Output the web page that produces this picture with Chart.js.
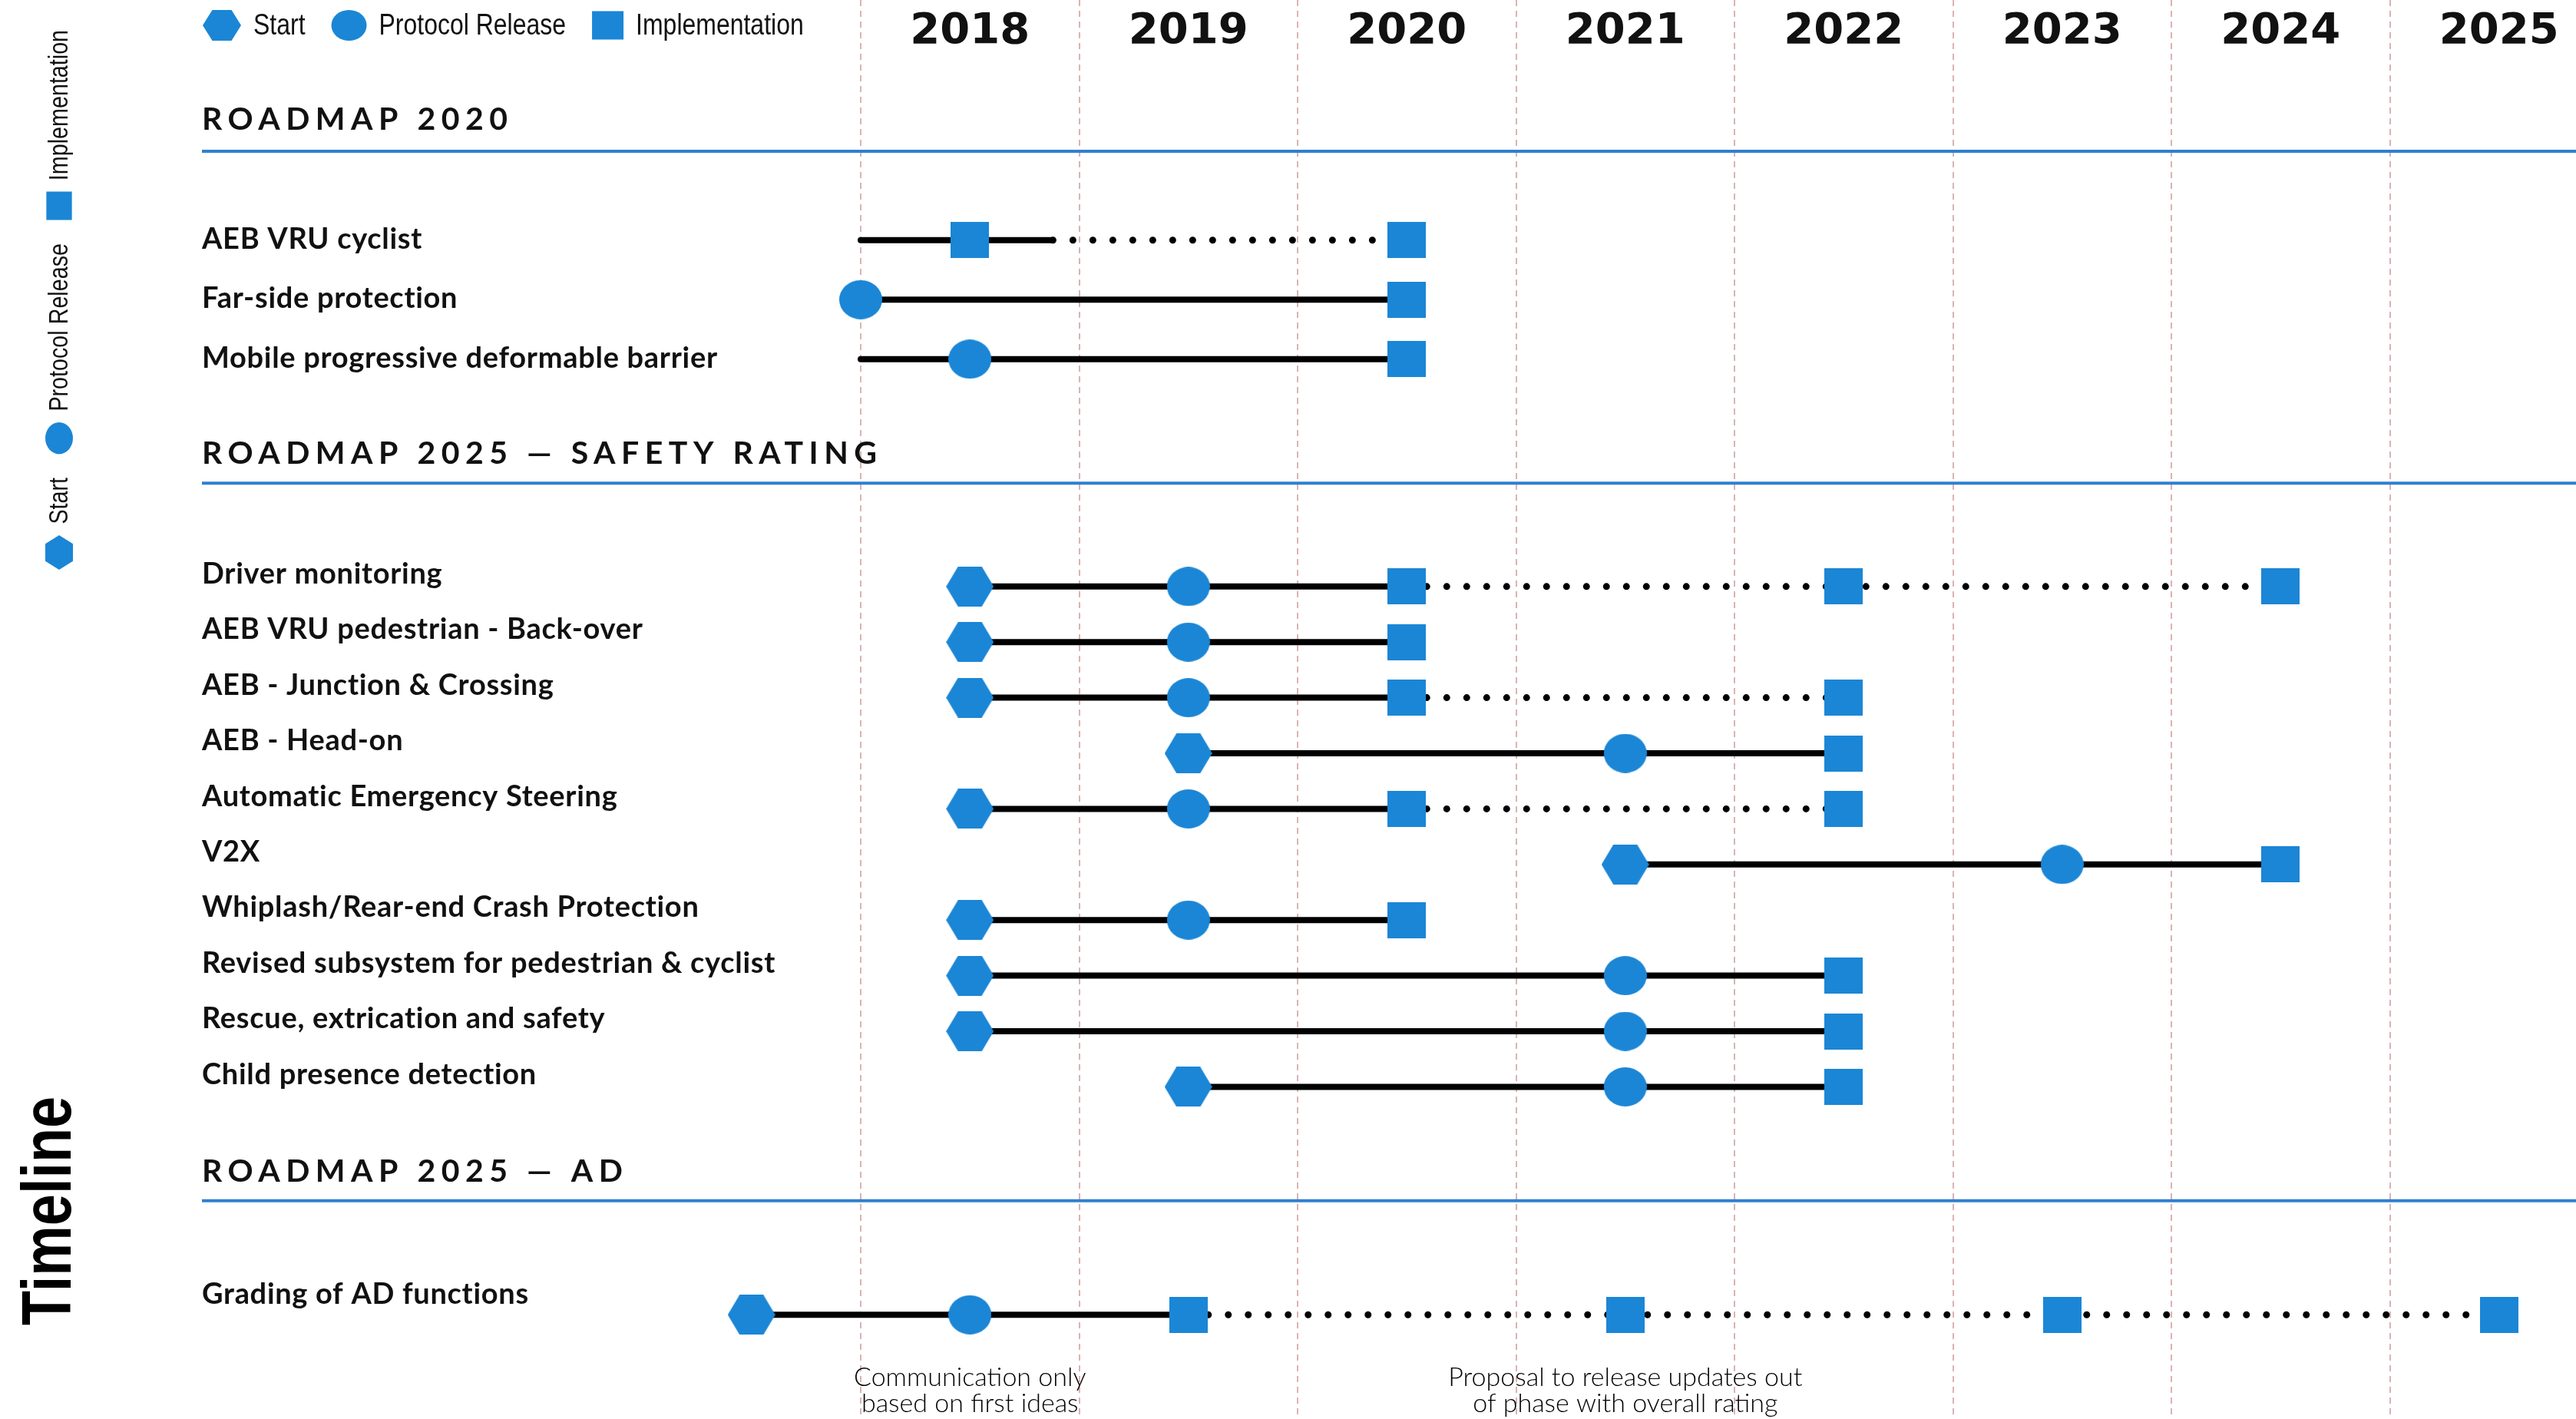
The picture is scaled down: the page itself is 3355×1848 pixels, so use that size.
<!DOCTYPE html>
<html>
<head>
<meta charset="utf-8">
<title>Roadmap timeline</title>
<script src="https://cdn.jsdelivr.net/npm/chart.js@4.4.1/dist/chart.umd.min.js"></script>
<style>
  html, body { margin: 0; padding: 0; background: #fff; }
  canvas { display: block; }
</style>
</head>
<body>
<canvas id="timeline" width="3355" height="1848"></canvas>
<script>
// Years across the top
var years = [2018, 2019, 2020, 2021, 2022, 2023, 2024, 2025];

// Sections and their rows
var sectionTitles = ['ROADMAP 2020', 'ROADMAP 2025 \u2014 SAFETY RATING', 'ROADMAP 2025 \u2014 AD'];
var roadmap2020 = ['AEB VRU cyclist', 'Far-side protection', 'Mobile progressive deformable barrier'];
var safetyRating = [
  'Driver monitoring',
  'AEB VRU pedestrian - Back-over',
  'AEB - Junction & Crossing',
  'AEB - Head-on',
  'Automatic Emergency Steering',
  'V2X',
  'Whiplash/Rear-end Crash Protection',
  'Revised subsystem for pedestrian & cyclist',
  'Rescue, extrication and safety',
  'Child presence detection'
];
var adRows = ['Grading of AD functions'];

// Milestones per row (same order as the rows above), in years; .5 = middle of the year
var startAt = [null, null, null, 2018.5, 2018.5, 2018.5, 2019.5, 2018.5, 2021.5, 2018.5, 2018.5, 2018.5, 2019.5, 2017.5];
var protocolAt = [null, 2018.0, 2018.5, 2019.5, 2019.5, 2019.5, 2021.5, 2019.5, 2023.5, 2019.5, 2021.5, 2021.5, 2021.5, 2018.5];
var implementationAt = [
  [2018.5, 2020.5], [2020.5], [2020.5],
  [2020.5, 2022.5, 2024.5], [2020.5], [2020.5, 2022.5], [2022.5], [2020.5, 2022.5],
  [2024.5], [2020.5], [2022.5], [2022.5], [2022.5],
  [2019.5, 2021.5, 2023.5, 2025.5]
];
var solidFrom = [2018.0, 2018.0, 2018.0, 2018.5, 2018.5, 2018.5, 2019.5, 2018.5, 2021.5, 2018.5, 2018.5, 2018.5, 2019.5, 2017.5];
var solidTo = [2018.88, 2020.5, 2020.5, 2020.5, 2020.5, 2020.5, 2022.5, 2020.5, 2024.5, 2020.5, 2022.5, 2022.5, 2022.5, 2019.5];
var dottedTo = [2020.5, null, null, 2024.5, null, 2022.5, null, 2022.5, null, null, null, null, null, 2025.5];

// Notes under the AD row
var noteAt = [2018.5, 2021.5];
var noteLines = [
  ['Communication only', 'based on first ideas'],
  ['Proposal to release updates out', 'of phase with overall rating']
];

var legendNames = ['Start', 'Protocol Release', 'Implementation'];

// ---- layout (row units: 1 unit = 72.4px) ----
var UNIT = 72.4;
var sectionTop = [4.32, 10.55, 23.65];
var sectionPitch = [1.07, 1.0, 1.0];
var headerY = [2.15, 8.16, 21.08];
var ruleY = [2.72, 8.69, 21.6];
var labelLift = [1, 16, 27];

var BLUE = '#1b86d6';
var LABEL_X = 263;
var NARROW = 0.82;

var sections = [roadmap2020, safetyRating, adRows];
var rows = [];
sections.forEach(function (list, s) {
  list.forEach(function (name, i) {
    rows.push({ label: name, section: s, y: sectionTop[s] + i * sectionPitch[s] });
  });
});

function drawShape(g, kind, cx, cy, w, h) {
  g.beginPath();
  if (kind === 'hex') {
    g.moveTo(cx - w / 2, cy);
    g.lineTo(cx - w / 4, cy - h / 2);
    g.lineTo(cx + w / 4, cy - h / 2);
    g.lineTo(cx + w / 2, cy);
    g.lineTo(cx + w / 4, cy + h / 2);
    g.lineTo(cx - w / 4, cy + h / 2);
    g.closePath();
  } else if (kind === 'circle') {
    g.ellipse(cx, cy, w / 2, h / 2, 0, 0, Math.PI * 2);
  } else {
    g.rect(cx - w / 2, cy - h / 2, w, h);
  }
  g.fillStyle = BLUE;
  g.fill();
}

function markerCanvas(kind, w, h) {
  var c = document.createElement('canvas');
  c.width = w;
  c.height = h;
  drawShape(c.getContext('2d'), kind, w / 2, h / 2, w, h);
  return c;
}

var hexMarker = markerCanvas('hex', 62, 52);
var circleMarker = markerCanvas('circle', 56, 51);
var squareMarker = markerCanvas('square', 50, 47);

// build datasets from the arrays
var solidData = [], dottedData = [], startData = [], protocolData = [], implData = [];
rows.forEach(function (r, i) {
  solidData.push({ x: solidFrom[i], y: r.y }, { x: solidTo[i], y: r.y }, { x: solidTo[i], y: null });
  if (dottedTo[i] !== null) {
    dottedData.push({ x: solidTo[i], y: r.y }, { x: dottedTo[i], y: r.y }, { x: dottedTo[i], y: null });
  }
  if (startAt[i] !== null) startData.push({ x: startAt[i], y: r.y });
  if (protocolAt[i] !== null) protocolData.push({ x: protocolAt[i], y: r.y });
  implementationAt[i].forEach(function (v) { implData.push({ x: v, y: r.y }); });
});

// condensed text: squeeze a normal face horizontally
function narrowText(ctx, text, x, y) {
  ctx.save();
  ctx.translate(x, y);
  ctx.scale(NARROW, 1);
  ctx.fillText(text, 0, 0);
  ctx.restore();
  return ctx.measureText(text).width * NARROW;
}

function drawLegend(ctx, x0, cy, k) {
  var items = [['hex', 50, 40], ['circle', 46, 40], ['square', 41, 37]];
  ctx.font = Math.round(39 * k) + 'px "Liberation Sans"';
  ctx.textAlign = 'left';
  ctx.textBaseline = 'middle';
  var x = x0;
  items.forEach(function (it, i) {
    var w = it[1] * k, h = it[2] * k;
    drawShape(ctx, it[0], x + w / 2, cy, w, h);
    x += w + 16 * k;
    ctx.fillStyle = '#111';
    x += narrowText(ctx, legendNames[i], x, cy + 1) + 34 * k;
  });
}

var decor = {
  id: 'decor',
  beforeDatasetsDraw: function (chart) {
    var ctx = chart.ctx, xs = chart.scales.x, ys = chart.scales.y;
    ctx.save();

    // year headings
    ctx.fillStyle = '#111';
    ctx.font = 'bold 56px "DejaVu Sans"';
    ctx.textAlign = 'center';
    ctx.textBaseline = 'middle';
    years.forEach(function (yr) {
      ctx.fillText(String(yr), xs.getPixelForValue(yr + 0.5), 41);
    });

    // section headings and blue rules
    sectionTitles.forEach(function (t, s) {
      var ry = ys.getPixelForValue(ruleY[s]);
      ctx.strokeStyle = '#2f80cf';
      ctx.lineWidth = 4;
      ctx.beginPath();
      ctx.moveTo(LABEL_X, ry);
      ctx.lineTo(chart.width, ry);
      ctx.stroke();
      ctx.fillStyle = '#111';
      ctx.font = 'bold 41px Lato';
      ctx.letterSpacing = '7.5px';
      ctx.textAlign = 'left';
      ctx.fillText(t, LABEL_X, ys.getPixelForValue(headerY[s]));
      ctx.letterSpacing = '0px';
    });

    // row labels
    ctx.font = 'bold 38px Lato';
    ctx.letterSpacing = '0.7px';
    ctx.textAlign = 'left';
    ctx.textBaseline = 'middle';
    ctx.fillStyle = '#111';
    rows.forEach(function (r) {
      ctx.fillText(r.label, LABEL_X, ys.getPixelForValue(r.y) - labelLift[r.section]);
    });
    ctx.letterSpacing = '0px';

    // notes
    ctx.font = '300 34px Lato';
    ctx.textAlign = 'center';
    ctx.fillStyle = '#000';
    noteAt.forEach(function (v, i) {
      var px = xs.getPixelForValue(v);
      ctx.fillText(noteLines[i][0], px, 1794);
      ctx.fillText(noteLines[i][1], px, 1828);
    });

    // legend on top
    drawLegend(ctx, 264, 33, 1);

    // legend rotated on the left
    ctx.save();
    ctx.translate(77, 742);
    ctx.rotate(-Math.PI / 2);
    drawLegend(ctx, 0, 0, 0.9);
    ctx.restore();

    // "Timeline"
    ctx.save();
    ctx.translate(92, 1577);
    ctx.rotate(-Math.PI / 2);
    ctx.font = 'bold 90px "Liberation Sans"';
    ctx.textAlign = 'center';
    ctx.textBaseline = 'alphabetic';
    ctx.fillStyle = '#000';
    narrowText(ctx, 'Timeline', 0, 0);
    ctx.restore();

    ctx.restore();
  }
};

var X_MIN = 2018 - 1121 / 284.5;
var X_MAX = X_MIN + 3355 / 284.5;

var chart = new Chart(document.getElementById('timeline').getContext('2d'), {
  type: 'line',
  data: {
    datasets: [
      {
        label: 'Start',
        data: startData,
        showLine: false,
        pointStyle: hexMarker,
        pointRadius: 22,
        order: 0
      },
      {
        label: 'Protocol Release',
        data: protocolData,
        showLine: false,
        pointStyle: circleMarker,
        pointRadius: 22,
        order: 0
      },
      {
        label: 'Implementation',
        data: implData,
        showLine: false,
        pointStyle: squareMarker,
        pointRadius: 22,
        order: 0
      },
      {
        label: 'planned',
        data: dottedData,
        borderColor: '#000',
        borderWidth: 9,
        borderDash: [0, 26],
        borderCapStyle: 'round',
        pointRadius: 0,
        spanGaps: false,
        order: 2
      },
      {
        label: 'timeline',
        data: solidData,
        borderColor: '#000',
        borderWidth: 8,
        borderCapStyle: 'round',
        pointRadius: 0,
        spanGaps: false,
        order: 1
      }
    ]
  },
  options: {
    responsive: false,
    devicePixelRatio: 1,
    animation: false,
    events: [],
    layout: { padding: 0, autoPadding: false },
    scales: {
      x: {
        type: 'linear',
        min: X_MIN,
        max: X_MAX,
        afterBuildTicks: function (scale) {
          scale.ticks = years.map(function (v) { return { value: v }; });
        },
        ticks: { display: false },
        grid: { color: '#dbb3b3', lineWidth: 2, drawTicks: false },
        border: { display: false, dash: [8, 6] }
      },
      y: {
        type: 'linear',
        display: false,
        reverse: true,
        min: 0,
        max: 1848 / UNIT
      }
    },
    plugins: {
      legend: { display: false },
      tooltip: { enabled: false }
    }
  },
  plugins: [decor]
});
</script>
</body>
</html>
